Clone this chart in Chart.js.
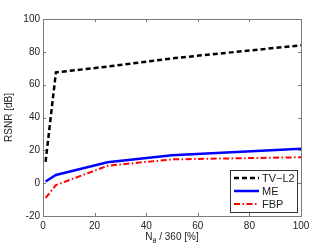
<!DOCTYPE html>
<html><head><meta charset="utf-8">
<script src="https://cdn.jsdelivr.net/npm/chart.js@4/dist/chart.umd.min.js"></script>
<style>html,body{margin:0;padding:0;background:#fff}#wrap{width:332px;height:249px}</style>
</head><body><div id="wrap"><canvas id="c" width="332" height="249"></canvas></div>
<script>
const xValues = [1, 5, 25, 50, 100];
const tvL2 = [13, 67.5, 71, 76, 84];
const me = [1, 5, 12.7, 17, 21];
const fbp = [-9, -1.2, 10.6, 14.5, 15.8];
const seriesLabels = ['TV\u2212L2', 'ME', 'FBP'];
const xTicks = [0, 20, 40, 60, 80, 100];
const yTicks = [-20, 0, 20, 40, 60, 80, 100];
const FONT = 'Liberation Sans, Arial, sans-serif';

function pts(ys){ return xValues.map((x,i)=>({x:x,y:ys[i]})); }

const framePlugin = {
  id:'frame',
  afterDraw(chart){
    const ctx = chart.ctx, a = chart.chartArea;
    const xs = chart.scales.x, ys = chart.scales.y;
    ctx.save();
    ctx.strokeStyle = '#7a7a7a'; ctx.lineWidth = 1;
    ctx.strokeRect(Math.round(a.left)+0.5, Math.round(a.top)+0.5, Math.round(a.right-a.left), Math.round(a.bottom-a.top));
    ctx.beginPath();
    xTicks.forEach(v=>{ const px = Math.round(xs.getPixelForValue(v))+0.5;
      ctx.moveTo(px,a.bottom); ctx.lineTo(px,a.bottom-3); ctx.moveTo(px,a.top); ctx.lineTo(px,a.top+3); });
    yTicks.forEach(v=>{ const py = Math.round(ys.getPixelForValue(v))+0.5;
      ctx.moveTo(a.left,py); ctx.lineTo(a.left+3,py); ctx.moveTo(a.right,py); ctx.lineTo(a.right-3,py); });
    ctx.stroke();
    // x title with subscript
    ctx.fillStyle = '#222';
    ctx.textBaseline = 'alphabetic';
    const cx = (a.left+a.right)/2, by = 240;
    ctx.font = '10px ' + FONT;
    const p1 = 'N', p3 = ' / 360 [%]';
    ctx.font = '7px ' + FONT; const wSub = ctx.measureText('\u03b8').width;
    ctx.font = '10px ' + FONT;
    const w1 = ctx.measureText(p1).width, w3 = ctx.measureText(p3).width;
    let x0 = cx - (w1+wSub+w3)/2;
    ctx.textAlign = 'left';
    ctx.fillText(p1, x0, by);
    ctx.font = '7px ' + FONT; ctx.fillText('\u03b8', x0+w1, by+2.5);
    ctx.font = '10px ' + FONT; ctx.fillText(p3, x0+w1+wSub, by);
    // y title
    ctx.save();
    ctx.translate(12, (a.top+a.bottom)/2);
    ctx.rotate(-Math.PI/2);
    ctx.textAlign='center';
    ctx.fillText('RSNR [dB]', 0, 0);
    ctx.restore();
    // legend
    const lx = 230, ly = 170, lw = 67, lh = 42;
    ctx.fillStyle = '#fff'; ctx.fillRect(lx, ly, lw, lh);
    ctx.strokeStyle = '#333'; ctx.lineWidth = 1;
    ctx.strokeRect(lx+0.5, ly+0.5, lw, lh);
    chart.data.datasets.forEach((ds,i)=>{
      const yy = ly + 8 + i*13;
      ctx.beginPath();
      ctx.strokeStyle = ds.borderColor; ctx.lineWidth = ds.borderWidth;
      ctx.setLineDash(ds.borderDash||[]);
      ctx.moveTo(lx+4, yy); ctx.lineTo(lx+29, yy); ctx.stroke();
      ctx.setLineDash([]);
      ctx.fillStyle = '#222'; ctx.font = '11px ' + FONT; ctx.textBaseline='middle'; ctx.textAlign='left';
      ctx.fillText(ds.label, lx+32, yy+0.5);
    });
    ctx.restore();
  }
};

new Chart(document.getElementById('c'), {
  type:'line',
  data:{ datasets:[
    {label:seriesLabels[0], data:pts(tvL2), borderColor:'#000', borderWidth:2.5, borderDash:[5,3], pointRadius:0, fill:false, tension:0},
    {label:seriesLabels[1], data:pts(me), borderColor:'#0000ff', borderWidth:2.5, pointRadius:0, fill:false, tension:0},
    {label:seriesLabels[2], data:pts(fbp), borderColor:'#ff0000', borderWidth:2, borderDash:[6,2.5,1.5,2.5], pointRadius:0, fill:false, tension:0}
  ]},
  options:{
    responsive:false, animation:false, devicePixelRatio:1,
    layout:{padding:{top:19, right:31, left:0, bottom:0}},
    plugins:{legend:{display:false}, tooltip:{enabled:false}},
    scales:{
      x:{type:'linear', min:0, max:100,
        afterBuildTicks(s){ s.ticks = xTicks.map(v=>({value:v})); },
        afterFit(s){ s.height = 33; },
        grid:{display:false, drawTicks:false}, border:{display:false},
        ticks:{color:'#222', font:{family:FONT, size:10}, padding:4, maxRotation:0}},
      y:{type:'linear', min:-20, max:100,
        afterBuildTicks(s){ s.ticks = yTicks.map(v=>({value:v})); },
        afterFit(s){ s.width = 43; },
        grid:{display:false, drawTicks:false}, border:{display:false},
        ticks:{color:'#222', font:{family:FONT, size:10}, padding:3}}
    }
  },
  plugins:[framePlugin]
});
</script></body></html>
